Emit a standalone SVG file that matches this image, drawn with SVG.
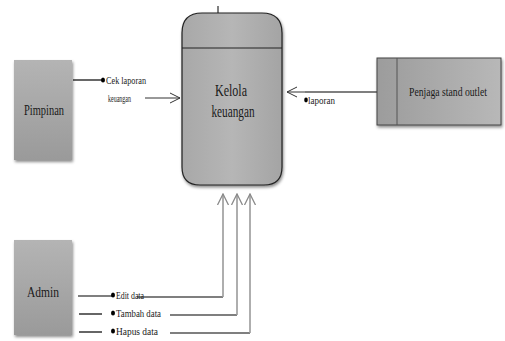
<svg xmlns="http://www.w3.org/2000/svg" width="505" height="341" viewBox="0 0 505 341">
<style>
.lbl{font-family:"Liberation Serif","DejaVu Serif",serif;fill:#1a1a1a}
.small{font-size:11px}
.conn{stroke:#000;stroke-width:1.2;fill:none}
.up{stroke:#9a9a9a;stroke-width:1.6;fill:none}
.dot{fill:#000}
</style>
<defs>
<linearGradient id="ext" x1="0" y1="0" x2="0" y2="1">
<stop offset="0" stop-color="#b4b4b4"/>
<stop offset="1" stop-color="#9a9a9a"/>
</linearGradient>
<linearGradient id="proc" x1="0" y1="0" x2="1" y2="0">
<stop offset="0" stop-color="#a8a8a8"/>
<stop offset="0.5" stop-color="#b6b6b6"/>
<stop offset="1" stop-color="#a4a4a4"/>
</linearGradient>
<linearGradient id="pj" x1="0" y1="0" x2="1" y2="0">
<stop offset="0" stop-color="#9c9c9c"/>
<stop offset="1" stop-color="#b8b8b8"/>
</linearGradient>
<filter id="sh" x="-10%" y="-10%" width="120%" height="125%">
<feDropShadow dx="1" dy="2" stdDeviation="1.5" flood-color="#000" flood-opacity="0.45"/>
</filter>
<marker id="open" markerWidth="12" markerHeight="12" refX="11" refY="6" orient="auto" markerUnits="userSpaceOnUse">
<path d="M1,1 L11,6 L1,11" fill="none" stroke="#333" stroke-width="1"/>
</marker>
<marker id="openg" markerWidth="12" markerHeight="14" refX="11" refY="7" orient="auto" markerUnits="userSpaceOnUse">
<path d="M0,1.5 L11,7 L0,12.5" fill="none" stroke="#8a8a8a" stroke-width="1.3"/>
</marker>
</defs>

<g id="connectors">
<line class="conn" x1="73" y1="80" x2="102" y2="80"/>
<ellipse class="dot" cx="103" cy="80" rx="2" ry="2.6"/>
<line x1="145" y1="98" x2="180" y2="98" stroke="#333" stroke-width="1" marker-end="url(#open)"/>
<line class="conn" x1="377" y1="92" x2="305" y2="92"/>
<line x1="305" y1="92" x2="287" y2="92" stroke="#333" stroke-width="1" marker-end="url(#open)"/>
<ellipse class="dot" cx="306" cy="100" rx="1.8" ry="2.4"/>
<line x1="218" y1="6" x2="218" y2="13" stroke="#000" stroke-width="1"/>
<line class="conn" x1="78" y1="296" x2="112" y2="296"/>
<ellipse class="dot" cx="113" cy="295" rx="2" ry="2.6"/>
<line class="conn" x1="137" y1="297" x2="223" y2="297"/>
<line class="conn" x1="79" y1="314" x2="102" y2="314"/>
<ellipse class="dot" cx="113" cy="313" rx="2" ry="2.6"/>
<line class="conn" x1="170" y1="315" x2="237" y2="315"/>
<line class="conn" x1="79" y1="332" x2="102" y2="332"/>
<ellipse class="dot" cx="113" cy="331" rx="2" ry="2.6"/>
<line class="conn" x1="170" y1="333" x2="250" y2="333"/>
<line class="up" x1="223" y1="297" x2="223" y2="194" marker-end="url(#openg)"/>
<line class="up" x1="237" y1="315" x2="237" y2="194" marker-end="url(#openg)"/>
<line class="up" x1="250" y1="333" x2="250" y2="194" marker-end="url(#openg)"/>
</g>

<g id="pimpinan">
<rect x="14" y="60" width="58" height="100" fill="url(#ext)" filter="url(#sh)"/>
<text class="lbl" x="44" y="115" font-size="14" text-anchor="middle" textLength="40" lengthAdjust="spacingAndGlyphs">Pimpinan</text>
</g>

<g id="kelola">
<path d="M202,13 H262 Q282,13 282,33 V167 Q282,185 264,185 H200 Q182,185 182,167 V33 Q182,13 202,13 Z" fill="url(#proc)" stroke="#222" stroke-width="1.2" filter="url(#sh)"/>
<line x1="182" y1="48" x2="282" y2="48" stroke="#222" stroke-width="1"/>
<text class="lbl" x="231" y="96" font-size="17" text-anchor="middle" textLength="32" lengthAdjust="spacingAndGlyphs">Kelola</text>
<text class="lbl" x="233" y="117" font-size="16" text-anchor="middle" textLength="43" lengthAdjust="spacingAndGlyphs">keuangan</text>
</g>

<g id="penjaga">
<rect x="377" y="58" width="124" height="67" fill="url(#pj)" stroke="#444" stroke-width="1" filter="url(#sh)"/>
<line x1="397" y1="58" x2="397" y2="125" stroke="#555" stroke-width="1"/>
<text class="lbl" x="448" y="96" font-size="11.5" text-anchor="middle" textLength="78" lengthAdjust="spacingAndGlyphs">Penjaga stand outlet</text>
</g>

<g id="admin">
<rect x="14" y="240" width="58" height="95" fill="url(#ext)" filter="url(#sh)"/>
<text class="lbl" x="43" y="297" font-size="14" text-anchor="middle" textLength="32" lengthAdjust="spacingAndGlyphs">Admin</text>
</g>

<g id="labels">
<text class="lbl small" x="106" y="84" textLength="40" lengthAdjust="spacingAndGlyphs">Cek laporan</text>
<text class="lbl small" x="108" y="102" textLength="23" lengthAdjust="spacingAndGlyphs">keuangan</text>
<text class="lbl small" x="308" y="104" textLength="27" lengthAdjust="spacingAndGlyphs">laporan</text>
<text class="lbl small" x="116" y="299" textLength="28" lengthAdjust="spacingAndGlyphs">Edit data</text>
<text class="lbl small" x="116" y="317" textLength="45" lengthAdjust="spacingAndGlyphs">Tambah data</text>
<text class="lbl small" x="116" y="335" textLength="42" lengthAdjust="spacingAndGlyphs">Hapus data</text>
</g>
</svg>
